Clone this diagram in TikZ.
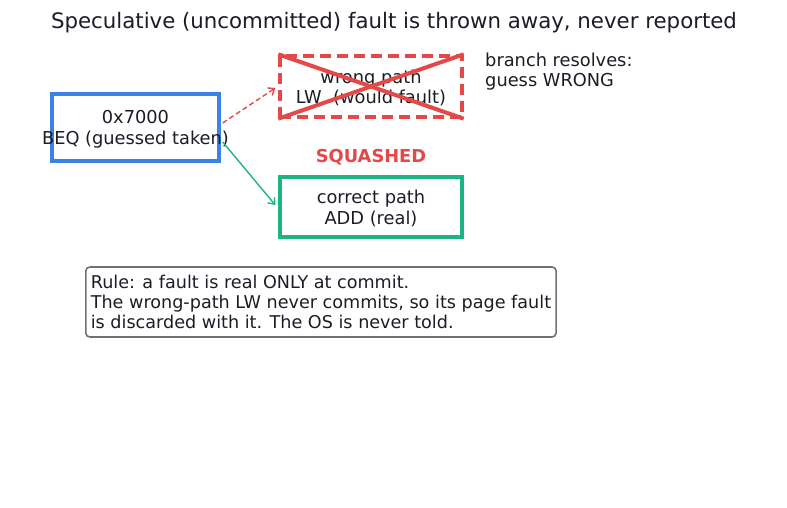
\documentclass[tikz,border=0pt]{standalone}
\usepackage{fontspec}
\setmainfont{DejaVu Sans}
\usetikzlibrary{arrows.meta}
\definecolor{inkc}{HTML}{1A1D26}
\definecolor{blueb}{HTML}{3B82E6}
\definecolor{redb}{HTML}{E54848}
\definecolor{greenb}{HTML}{1DB384}
\definecolor{grayb}{HTML}{6E7178}
\tikzset{
  box/.style={draw, line width=3.4pt, inner sep=0pt},
  txt/.style={font=\fontsize{17.8}{20.5}\selectfont, text=inkc, align=center},
  boxtxt/.style={txt, yshift=-1.5pt},
  arr/.style={line width=1.4pt, -{Straight Barb[length=5.5pt,width=9pt]}}
}
\begin{document}
\begin{tikzpicture}[x=1pt, y=-1pt]
                    \useasboundingbox (0,0) rectangle (787,508);
                    \node[txt, font=\fontsize{21.3}{24}\selectfont] (title) at (394,23) {Speculative (uncommitted) fault is thrown away, never reported};
                    
                    \node[box, blueb, minimum width=167, minimum height=67] (beq) at (135.5,127.5) {};
                    \node[boxtxt] (beqtxt) at (beq) {0x7000\\BEQ (guessed taken)};
                    
                    \node[box, redb, dash pattern=on 11pt off 6pt, minimum width=182, minimum height=61] (wrong) at (371,86.5) {};
                    \node[boxtxt] (wrongtxt) at (wrong) {wrong path\\LW\ \ (would fault)};
                    
                    \node[box, greenb, minimum width=182, minimum height=60] (right) at (371,207) {};
                    \node[boxtxt] (righttxt) at (right) {correct path\\ADD (real)};
                    
                    % cross over the squashed path
                    \draw[redb, line width=4pt] (wrong.north west) -- (wrong.south east);
                    \draw[redb, line width=4pt] (wrong.south west) -- (wrong.north east);
                    
                    \node[txt, align=left, anchor=west, inner xsep=0pt] (resolve) at (485,71.5) {branch resolves:\\guess WRONG};
                    \node[txt, redb, font=\fontsize{17.8}{20.5}\selectfont\bfseries] (squash) at (371,157) {SQUASHED};
                    
                    \draw[arr, redb, dash pattern=on 5pt off 3pt] ([xshift=2,yshift=4.5]beq.east) -- ([xshift=-3,yshift=-1.5]wrong.west);
                    \draw[arr, greenb] ([xshift=2,yshift=-14.5]beq.east) -- ([xshift=-3,yshift=2]right.west);
                    
                    \node[txt, font=\fontsize{17.6}{20.2}\selectfont, draw=grayb, line width=1.6pt, rounded corners=4pt, align=left, anchor=west, inner xsep=5pt, minimum height=70] (rule) at (85,302) {Rule: a fault is real ONLY at commit.\\The wrong-path LW never commits, so its page fault\\is discarded with it. The OS is never told.};
                \end{tikzpicture}
\end{document}
